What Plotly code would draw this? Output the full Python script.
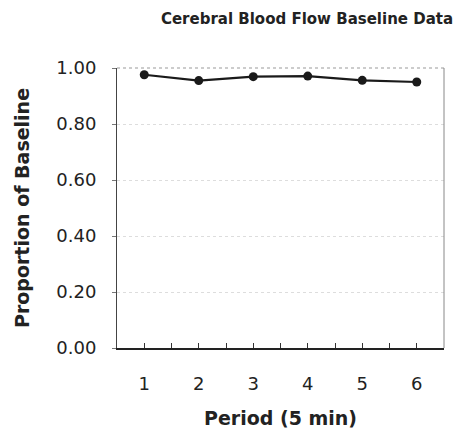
import plotly.graph_objects as go

periods = [1, 2, 3, 4, 5, 6]
proportion = [0.976, 0.955, 0.969, 0.971, 0.956, 0.950]
y_ticks = [0.0, 0.2, 0.4, 0.6, 0.8, 1.0]
y_tick_labels = ["0.00", "0.20", "0.40", "0.60", "0.80", "1.00"]

# The page body adds an 8px offset, so the figure is sized to fill the rest of the window.
W, H = 464, 426

fig = go.Figure()
fig.add_trace(go.Scatter(
    x=periods, y=proportion, mode="lines+markers",
    line=dict(color="#1a1a1a", width=2.2),
    marker=dict(color="#1a1a1a", size=9),
    showlegend=False,
))

fig.update_layout(
    width=W, height=H,
    margin=dict(l=109, r=28, t=60, b=86, autoexpand=False),
    paper_bgcolor="white", plot_bgcolor="white",
    font=dict(family="DejaVu Sans", color="#222222"),
    title=dict(
        text="<b>Cerebral Blood Flow Baseline Data</b>",
        font=dict(family="DejaVu Sans", size=15, color="#222222"),
        x=299 / W, xanchor="center", xref="container",
        y=1 - 10.5 / H, yanchor="middle", yref="container",
    ),
    xaxis=dict(
        range=[0.5, 6.5], automargin=False,
        tickvals=periods, ticktext=[str(p) for p in periods],
        ticks="inside", ticklen=5, tickcolor="#333333", tickwidth=1,
        minor=dict(dtick=0.5, tick0=0, ticks="inside", ticklen=5, tickcolor="#333333", tickwidth=1),
        showgrid=False, zeroline=False,
        showline=True, linecolor="#222222", linewidth=1.5,
        tickfont=dict(size=18, color="#222222"),
        ticklabelstandoff=19,
        title=dict(text="<b>Period (5 min)</b>", font=dict(size=19, color="#222222"), standoff=18),
    ),
    yaxis=dict(
        range=[0, 1.0], automargin=False,
        tickvals=y_ticks, ticktext=y_tick_labels,
        ticks="outside", ticklen=4, tickcolor="#777777", tickwidth=1,
        showgrid=True, gridcolor="#dddddd", griddash="dot", gridwidth=1,
        zeroline=False,
        showline=True, linecolor="#444444", linewidth=1,
        tickfont=dict(size=18, color="#222222"),
        ticklabelstandoff=12,
        title=dict(text="<b>Proportion of Baseline</b>", font=dict(size=19, color="#222222"), standoff=21),
    ),
    shapes=[
        dict(type="line", xref="paper", yref="paper", x0=0, x1=1, y0=1, y1=1,
             line=dict(color="#999999", width=1, dash="dot")),
        dict(type="line", xref="paper", yref="paper", x0=1, x1=1, y0=0, y1=1,
             line=dict(color="#888888", width=1)),
    ],
)

fig.write_html("out.html")
